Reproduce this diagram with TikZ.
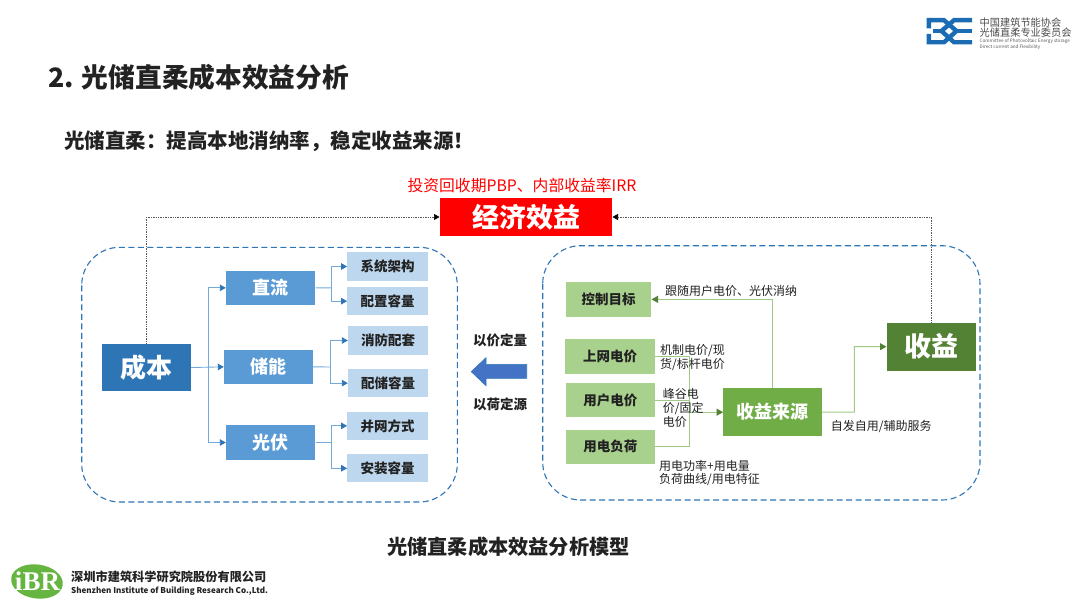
\documentclass[tikz,border=0pt]{standalone}
\usepackage{fontspec}
\setmainfont{Noto Sans CJK SC}
\newfontfamily\logoserif{Liberation Serif}
\usetikzlibrary{arrows.meta}
\definecolor{cbDark}{HTML}{2E75B6}
\definecolor{cbMid}{HTML}{5B9BD5}
\definecolor{cbLight}{HTML}{BDD7EE}
\definecolor{gLight}{HTML}{A9D18E}
\definecolor{gMid}{HTML}{70AD47}
\definecolor{gDark}{HTML}{548235}
\definecolor{ink}{HTML}{222222}
\definecolor{logoBlue}{HTML}{1C6CB4}
\definecolor{bigArrow}{HTML}{4472C4}
\newcommand{\fs}[1]{\fontsize{#1}{#1}\selectfont}
\newcommand{\bx}[7]{%
  \path[#6] (#2,#3) rectangle (#4,#5);
  \node[inner sep=0,align=center] (#1) at ({(#2+#4)/2},{(#3+#5)/2}) [minimum width={#4-#2},minimum height={#5-#3}] {#7};}
\tikzset{
  bluelink/.style={draw=cbMid!85,line width=0.9pt},
  bluearrow/.style={bluelink,-{Triangle[length=6pt,width=6.5pt,color=cbDark]}},
  greenlink/.style={draw=gLight!90!gDark,line width=1pt},
  greenarrow/.style={greenlink,-{Triangle[length=6.5pt,width=7pt,color=gDark]}},
  dotlink/.style={draw=black!65,line width=0.7pt,densely dotted,-{Triangle[length=5.5pt,width=6pt,color=black]}},
  dashbox/.style={draw=cbDark,line width=1.1pt,dash pattern=on 6pt off 3.5pt,rounded corners=38pt},
  lbl/.style={inner sep=0,anchor=west,text=ink,font=\fs{12}},
  lead/.style={inner sep=0,text=ink,font=\bfseries\fs{13.5}},
  logostroke/.style={draw=logoBlue,line width=4.4pt,line join=miter}
}
\begin{document}
\begin{tikzpicture}[x=1pt,y=-1pt]
\useasboundingbox (0,0) rectangle (1080,607);
\fill[white] (0,0) rectangle (1080,607);

% titles
\node[inner sep=0,anchor=west,text=ink,font=\bfseries\fs{26.7}] (title) at (48,77) {2. 光储直柔成本效益分析};
\node[inner sep=0,anchor=west,text=ink,font=\bfseries\fs{20.5}] (sub) at (64,141) {光储直柔：提高本地消纳率，稳定收益来源！};
\node[inner sep=0,text=red,font=\fs{15.8}] (redlab) at (522,185) {投资回收期PBP、内部收益率IRR};
\node[inner sep=0,text=ink,font=\bfseries\fs{20.2}] (caption) at (508.5,547) {光储直柔成本效益分析模型};

% dashed groups
\draw[dashbox] (81.7,247.3) rectangle (457.3,502);
\draw[dashbox] (542.7,245.7) rectangle (980,500);

% top box
\bx{econ}{439.7}{198}{612.3}{236}{fill=red}{\textcolor{white}{\bfseries\fs{27}经济效益}}

% left side
\bx{cost}{102.3}{343.7}{191}{391.3}{fill=cbDark}{\textcolor{white}{\bfseries\fs{26}成本}}
\bx{dc}{226}{270.7}{315.3}{305}{fill=cbMid}{\textcolor{white}{\bfseries\fs{18}直流}}
\bx{st}{224}{349.7}{313}{384}{fill=cbMid}{\textcolor{white}{\bfseries\fs{18}储能}}
\bx{pv}{226}{425.3}{315.3}{459.7}{fill=cbMid}{\textcolor{white}{\bfseries\fs{18}光伏}}
\bx{a}{347.3}{252.3}{427.7}{280.7}{fill=cbLight}{\textcolor{ink}{\bfseries\fs{13.5}系统架构}}
\bx{b}{347.3}{287}{427.7}{315.3}{fill=cbLight}{\textcolor{ink}{\bfseries\fs{13.5}配置容量}}
\bx{c}{348}{326.3}{428.3}{354.7}{fill=cbLight}{\textcolor{ink}{\bfseries\fs{13.5}消防配套}}
\bx{d}{348}{369}{428.3}{397.3}{fill=cbLight}{\textcolor{ink}{\bfseries\fs{13.5}配储容量}}
\bx{e}{347.3}{411.7}{427.7}{440}{fill=cbLight}{\textcolor{ink}{\bfseries\fs{13.5}并网方式}}
\bx{f}{347.3}{454.3}{427.7}{482.3}{fill=cbLight}{\textcolor{ink}{\bfseries\fs{13.5}安装容量}}

\coordinate (busA) at (208.3,367.3);
\coordinate (busB) at (331,287.8);
\coordinate (busC) at (330.3,367);
\coordinate (busD) at (331,442.5);
\draw[bluearrow] (cost.east) -- (st.west);
\draw[bluearrow] (busA) |- (dc.west);
\draw[bluearrow] (busA) |- (pv.west);
\draw[bluelink] (dc.east) -- (busB);
\draw[bluearrow] (busB) |- (a.west);
\draw[bluearrow] (busB) |- (b.west);
\draw[bluelink] (st.east) -- (busC);
\draw[bluearrow] (busC) |- (c.west);
\draw[bluearrow] (busC) |- (d.west);
\draw[bluelink] (pv.east) -- (busD);
\draw[bluearrow] (busD) |- (e.west);
\draw[bluearrow] (busD) |- (f.west);

% right side
\bx{goal}{566}{282}{651.3}{316.7}{fill=gLight}{\textcolor{ink}{\bfseries\fs{13.5}控制目标}}
\bx{grid}{565.3}{339}{654.7}{373.7}{fill=gLight}{\textcolor{ink}{\bfseries\fs{13.5}上网电价}}
\bx{user}{566}{383}{654.7}{417.3}{fill=gLight}{\textcolor{ink}{\bfseries\fs{13.5}用户电价}}
\bx{load}{566}{429.7}{654.7}{464}{fill=gLight}{\textcolor{ink}{\bfseries\fs{13.5}用电负荷}}
\bx{src}{723.3}{388.3}{822}{436}{fill=gMid}{\textcolor{white}{\bfseries\fs{18}收益来源}}
\bx{rev}{886.7}{322.7}{975.7}{370.7}{fill=gDark}{\textcolor{white}{\bfseries\fs{27}收益}}

\coordinate (busE) at (689.3,412.2);
\draw[greenlink] (grid.east) -| (busE);
\draw[greenlink] (user.east) -| (busE);
\draw[greenlink] (load.east) -| (busE);
\draw[greenarrow] (busE) -- (busE -| src.west);
\draw[greenarrow] (src.north) |- (goal.east);
\draw[greenarrow] (src.east) -- (854.3,412.2) |- (rev.west);

% dotted feedback
\draw[dotlink] (cost.north) |- (econ.west);
\draw[dotlink] (rev.north) |- (econ.east);

% labels
\node[lbl] (l1) at (665,291) {跟随用户电价、光伏消纳};
\node[lbl] (l2) at (660,351) {机制电价/现};
\node[lbl] (l3) at (660,365) {货/标杆电价};
\node[lbl] (l4) at (662.7,393.5) {峰谷电};
\node[lbl] (l5) at (662.7,408) {价/固定};
\node[lbl] (l6) at (662.7,422) {电价};
\node[lbl] (l7) at (830.7,426.7) {自发自用/辅助服务};
\node[lbl] (l8) at (659,465.7) {用电功率+用电量};
\node[lbl] (l9) at (659,479.5) {负荷曲线/用电特征};

% centre
\node[lead] (m1) at (500,340) {以价定量};
\node[lead] (m2) at (500,404) {以荷定源};
\path[fill=bigArrow,draw=cbDark,line width=0.6pt] (471.3,371.7) -- (486,357.7) -- (486,364.3) -- (526.7,364.3) -- (526.7,378.3) -- (486,378.3) -- (486,385.7) -- cycle;

% top-right logo
\draw[logostroke] (928.9,28.5) -- (928.9,20.2) -- (944,20.2) -- (956.5,31) -- (944,42.3) -- (928.9,42.3) -- (928.9,34);
\draw[logostroke] (972,20.2) -- (954,20.2) -- (941.5,31) -- (954,42.3) -- (972,42.3);
\fill[logoBlue] (933,29) rectangle (943,33);
\fill[logoBlue] (955,29) rectangle (972,33);
\node[inner sep=0,anchor=west,text=black!70,font=\fs{10.2}] (lg1) at (979.5,22.5) {中国建筑节能协会};
\node[inner sep=0,anchor=west,text=black!70,font=\fs{10.2}] (lg2) at (979.5,32.5) {光储直柔专业委员会};
\node[inner sep=0,anchor=west,text=black!65,font=\fs{4.6}] (lg3) at (979.5,41.3) {Committee of Photovoltaic Energy storage};
\node[inner sep=0,anchor=west,text=black!65,font=\fs{4.6}] (lg4) at (979.5,46.8) {Direct current and Flexibility};

% bottom-left logo
\fill[gMid!90!green,rotate around={-8:(37,581.5)}] (37,581.5) ellipse (26 and 17);
\node[inner sep=0,text=white,font=\logoserif\bfseries\fs{27}] (ibr) at (37.5,581.5) {iBR};
\node[inner sep=0,anchor=west,text=ink,font=\bfseries\fs{12.2}] (lg5) at (71,576.5) {深圳市建筑科学研究院股份有限公司};
\node[inner sep=0,anchor=west,text=ink,font=\bfseries\fs{8.05}] (lg6) at (71,591.5) {Shenzhen Institute of Building Research Co.,Ltd.};
\end{tikzpicture}
\end{document}
